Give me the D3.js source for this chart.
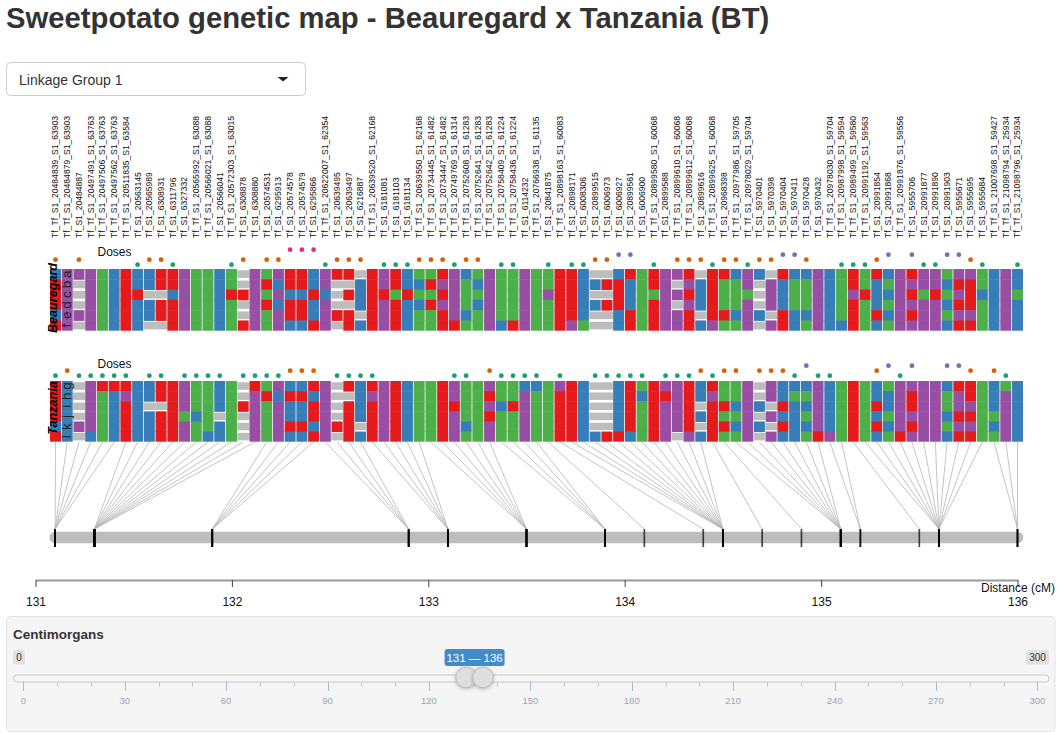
<!DOCTYPE html>
<html>
<head>
<meta charset="utf-8">
<script src="https://cdn.jsdelivr.net/npm/d3@7"></script>
<style>
html,body{margin:0;padding:0;background:#fff;overflow:hidden}
svg{display:block;font-family:"Liberation Sans",Arial,sans-serif}
</style>
</head>
<body>
<svg id="chart" width="1060" height="733"></svg>
<script>
const titleText = "Sweetpotato genetic map - Beauregard x Tanzania (BT)";
const selectText = "Linkage Group 1";
const parent1 = "Beauregard";
const parent2 = "Tanzania";
const rows1 = ["a","b","c","d","e","f"];
const rows2 = ["g","h","i","j","k","l"];
const axisTicks = [131,132,133,134,135,136];
const sliderRange = [131,136];
const sliderDomain = [0,300];

const markers = [
"Tf_Tf_S1_20484839_S1_63903","Tf_Tf_S1_20484879_S1_63903","Tf_S1_20484887","Tf_Tf_S1_20497491_S1_63763","Tf_Tf_S1_20497506_S1_63763","Tf_Tf_S1_20497562_S1_63763","Tf_Tf_S1_20511835_S1_63584","Tf_S1_20563145","Tf_S1_20565989","Tf_S1_6308931",
"Tf_S1_6311796","Tf_S1_6327332","Tf_Tf_S1_20565992_S1_63088","Tf_Tf_S1_20566021_S1_63088","Tf_S1_20566041","Tf_Tf_S1_20572303_S1_63015","Tf_S1_6308878","Tf_S1_6308880","Tf_S1_20574531","Tf_S1_6295913",
"Tf_S1_20574578","Tf_S1_20574579","Tf_S1_6295866","Tf_Tf_S1_20622007_S1_62354","Tf_S1_20639495","Tf_S1_20639497","Tf_S1_6216887","Tf_Tf_S1_20639520_S1_62168","Tf_S1_6181081","Tf_S1_6181103",
"Tf_S1_6181134","Tf_Tf_S1_20639550_S1_62168","Tf_Tf_S1_20734445_S1_61482","Tf_Tf_S1_20734447_S1_61482","Tf_Tf_S1_20749769_S1_61314","Tf_Tf_S1_20752608_S1_61283","Tf_Tf_S1_20752641_S1_61283","Tf_Tf_S1_20752642_S1_61283","Tf_Tf_S1_20758409_S1_61224","Tf_Tf_S1_20758436_S1_61224",
"Tf_S1_6114232","Tf_Tf_S1_20766938_S1_61135","Tf_S1_20841875","Tf_Tf_S1_20898163_S1_60083","Tf_S1_20898171","Tf_S1_6008306","Tf_S1_20899515","Tf_S1_6006973","Tf_S1_6006927","Tf_S1_20899561",
"Tf_S1_6006900","Tf_Tf_S1_20899580_S1_60068","Tf_S1_20899588","Tf_Tf_S1_20899610_S1_60068","Tf_Tf_S1_20899612_S1_60068","Tf_S1_20899616","Tf_Tf_S1_20899625_S1_60068","Tf_S1_20968398","Tf_Tf_S1_20977986_S1_59705","Tf_Tf_S1_20978029_S1_59704",
"Tf_S1_5970401","Tf_S1_5970398","Tf_S1_5970404","Tf_S1_5970411","Tf_S1_5970428","Tf_S1_5970432","Tf_Tf_S1_20978030_S1_59704","Tf_Tf_S1_20987998_S1_59594","Tf_Tf_S1_20989499_S1_59580","Tf_Tf_S1_20991192_S1_59563",
"Tf_S1_20991854","Tf_S1_20991868","Tf_Tf_S1_20991876_S1_59556","Tf_S1_5955706","Tf_S1_20991877","Tf_S1_20991890","Tf_S1_20991903","Tf_S1_5955671","Tf_S1_5955695","Tf_S1_5955684",
"Tf_Tf_S1_21007698_S1_59427","Tf_Tf_S1_21098794_S1_25934","Tf_Tf_S1_21098796_S1_25934"];

const centimorgans = [
131.1,131.1,131.1,131.1,131.1,131.1,
131.3,131.3,131.3,131.3,131.3,131.3,131.3,131.3,131.3,131.3,131.3,131.3,
131.9,131.9,131.9,131.9,131.9,
132.9,132.9,132.9,132.9,
133.1,133.1,133.1,133.1,133.1,
133.5,133.5,133.5,133.5,133.5,133.5,
133.9,133.9,133.9,133.9,
134.1,134.4,
134.5,134.5,134.5,134.5,134.5,134.5,134.5,134.5,134.5,134.5,134.5,134.5,
134.7,134.9,
135.1,135.1,135.1,135.1,135.1,135.1,135.1,135.1,
135.2,135.2,135.5,
135.6,135.6,135.6,135.6,135.6,135.6,135.6,135.6,135.6,135.6,135.6,
136,136,136];

// R red, B blue, G green, P purple, . gray (missing); six homologs per marker
const haplotypes1 = [
"BRRRBR","PPPPPP","P...P.","PPPPPP","GGGGGG","BBBBBB","RRRRRR","BBRBBB","BB.BB.","RR.RR.",
"RRBRRR","PPPPPP","GGGGGG","GGGGGG","BBBBBB","GGRGGG","..R..R","PPPPPP","GRGRGG","PBPBPP",
"RRBRRB","RRBRRB","BBRBBR","PPBPPP","R...R.","R.R.RR",".BBB.B","RRRRRR","PPRPPP","RRGRRR",
"BBRBBB","GBGBGG","GRGRGG","RPRPRR","PPPPPR","BGGGBG","GBGBGG","PPPPPP","GGGGGB","GGGGGR",
"PPPPPP","GGGGGG","GGPGGG","RRRRRR","RRRRRP","BBBBBG",".B.B..",".R.R..","BRRRBB","RBBBRR",
"GGGGGG","RRGRRR","PPPPPP","P.P.PP","RPRPRR",".BBB.B","RRRRRP","RGGGRG","BGGGBG","PPGPPP",
"B...B.",".PPP.P","RBBBRR","BGGGBB","BGGGBG","PPPPPP","BBBBBB","GGGGGB","RRPRRR","GGRGGG",
"RBBBRB","BGBGBG","PPPPPP","RPRPRP","PPGPPP","PPRPPP","GBGBGB","PRPRPR","PRRRPR","GGBGGG",
"BBBBBB","PPPPPP","BBGBBB"];

const haplotypes2 = [
"RRRRBR","BBBBBB","....P.","PPPPPB","RGGGGG","RBBBBB","RPRRRR","BBBBBB","BB.BBB","RR.RRR",
"RRRRRR","PPPGPP","GGGBGG","GGGGGB","BBB.BB","GGGGGG","..R...","RPPPPP","GRGGGG","PBPPPP",
"BRBBRB","BRBBRB","RBRRBR","PPPPPP","....R.","R.RRRR","BBBB.B","RPRRRR","PPPPPP","RRRRRR",
"BBBBBB","GGGGGG","GGGGGG","RRRRRR","PPRPPP","GGGGBG","GGGGGG","PRPRPP","GGBGGG","GGRGGG",
"BPPPPP","BGGGGG","GGGGGG","PRRRRR","RRRRRR","BBBBBB",".....B",".....R","BBBBBR","RRRRRB",
"GBGGGG","RRRRRR","PRPPPP","PPPPP.","RRRRRP","BB.B.B","RPRRRR","GGRGRG","GGBGBG","PPPPPP",
"..B.B.","PP.P.P","BBRBRB","BGBBBB","BGBGBG","PPPPPR","BBBBBP","GGGGGG","RRRRRR","GGGGGG",
"BBRBRB","GBBGBG","PPPPPR","PRRPRP","PPPPPP","PPPPPP","BGGBGB","RPPRPR","RRPRPR","GGGGGG",
"BBBGBG","GPPPPP","BBBBBB"];

const doses1 = [2,0,2,0,0,0,0,1,2,2,1,0,0,0,0,1,2,0,2,2,4,4,4,1,2,2,2,0,1,1,1,2,2,2,1,2,2,0,1,1,0,0,1,0,1,1,2,2,3,3,0,1,0,2,2,2,1,2,2,1,2,2,3,3,2,0,0,1,1,1,2,3,0,3,1,1,3,3,2,1,0,0,1];
const doses2 = [1,2,1,1,1,1,1,0,1,1,0,1,1,1,1,0,1,1,1,1,2,2,2,0,1,1,1,1,0,0,0,0,0,0,1,1,0,2,1,1,1,1,0,1,0,0,1,1,1,1,1,0,1,1,1,2,1,2,2,0,2,2,2,1,3,1,1,0,0,0,2,3,1,3,0,0,3,3,2,0,2,1,0];

const alleleColors = {R:"#e41a1c",B:"#377eb8",G:"#4daf4a",P:"#984ea3",".":"#bdbdbd"};
const doseColors = ["none","#1b9e77","#d95f02","#7570b3","#e7298a"];

const svg = d3.select("#chart");

// header
svg.append("text").attr("x",6).attr("y",28).attr("font-size",29.25).attr("font-weight",700)
  .attr("fill","#333").text(titleText);

svg.append("rect").attr("x",6.5).attr("y",62.5).attr("width",299).attr("height",33).attr("rx",4)
  .attr("fill","#fff").attr("stroke","#ccc");
svg.append("text").attr("x",19).attr("y",85).attr("font-size",14).attr("fill","#333").text(selectText);
svg.append("path").attr("d","M277.5 77L288.5 77L283 81.5Z").attr("fill","#222");

// scales
const xCol = d3.scalePoint().domain(d3.range(markers.length)).range([55.5,1017.5]);
const xCm = d3.scaleLinear().domain([131,136]).range([35.5,1017.5]);
const cellW = 10.95;

svg.append("clipPath").attr("id","labelClip").append("rect")
  .attr("x",0).attr("y",115).attr("width",1060).attr("height",130);

// marker names
svg.append("g").attr("clip-path","url(#labelClip)")
  .selectAll("text").data(markers).join("text")
  .attr("transform",(d,i)=>`translate(${xCol(i)+2.9},238) rotate(-90) scale(0.895,1)`)
  .attr("font-size",9.6).attr("fill","#111").text(d=>d);

function drawParent(name, rowNames, haps, doses, top, bottom, doseBase, doseLabelY, nameCenter){
  const g = svg.append("g");
  const y = d3.scaleBand().domain(rowNames).range([top,bottom]);
  const dose = d3.scaleLinear().domain([1,4]).range([doseBase,doseBase-15]);
  const cells = haps.flatMap((h,i)=>rowNames.map((r,k)=>({i,r,a:h[k]})));
  g.append("g").selectAll("rect").data(cells).join("rect")
    .attr("x",d=>xCol(d.i)-(d.a==="."?5.9:5.475))
    .attr("width",d=>d.a==="."?11.9:cellW)
    .attr("y",d=>d.a==="."?y(d.r)+1.3:y(d.r))
    .attr("height",d=>d.a==="."?y.bandwidth()-2.6:y.bandwidth()+(d.r===rowNames[5]?0:0.5))
    .attr("fill",d=>alleleColors[d.a]);
  g.append("g").selectAll("circle").data(doses.map((d,i)=>({d,i})).filter(e=>e.d>0)).join("circle")
    .attr("cx",d=>xCol(d.i)).attr("cy",d=>dose(d.d)).attr("r",2.4)
    .attr("fill",d=>doseColors[d.d]);
  g.append("text").attr("x",97.5).attr("y",doseLabelY).attr("font-size",12).attr("fill","#111").text("Doses");
  g.append("g").selectAll("text").data(rowNames).join("text")
    .attr("transform",r=>`translate(71.3,${y(r)+y.bandwidth()/2}) rotate(-90)`)
    .attr("text-anchor","middle").attr("font-size",13.5).attr("fill","#222").text(r=>r);
  g.append("text").attr("transform",`translate(56.5,${nameCenter}) rotate(-90)`)
    .attr("text-anchor","middle").attr("font-size",12.6).attr("font-weight",700)
    .attr("font-style","italic").attr("fill","#000").text(name);
}
drawParent(parent1,rows1,haplotypes1,doses1,269,330.7,264.7,256,298);
drawParent(parent2,rows2,haplotypes2,doses2,381,441.7,375.7,367.5,408);

// connector fan lines
const linkG = svg.append("g");
linkG.selectAll("line").data(centimorgans).join("line")
  .attr("x1",(d,i)=>xCol(i)).attr("y1",442).attr("x2",d=>xCm(d)).attr("y2",529)
  .attr("stroke","#b5b5b5").attr("stroke-width",0.8);

// chromosome
svg.append("line").attr("x1",xCm(131.1)).attr("x2",xCm(136)).attr("y1",537.5).attr("y2",537.5)
  .attr("stroke","#bdbdbd").attr("stroke-width",11.5).attr("stroke-linecap","round");
svg.append("g").selectAll("line").data(centimorgans).join("line")
  .attr("x1",d=>xCm(d)).attr("x2",d=>xCm(d)).attr("y1",529).attr("y2",547)
  .attr("stroke","#000").attr("stroke-width",1.7).attr("stroke-opacity",0.7);

// distance axis
const axisG = svg.append("g").attr("transform","translate(0,580)")
  .call(d3.axisBottom(xCm).tickValues(axisTicks).tickSize(7).tickSizeOuter(0).tickFormat(d3.format("d")));
axisG.select(".domain").attr("stroke","#999").attr("stroke-width",2);
axisG.selectAll(".tick line").attr("stroke","#444");
axisG.selectAll(".tick text").attr("y",17).attr("font-size",12).attr("fill","#111")
  .attr("font-family","'Liberation Sans',Arial,sans-serif");
svg.append("text").attr("x",981).attr("y",592).attr("font-size",12).attr("fill","#111").text("Distance (cM)");

// slider well
svg.append("rect").attr("x",6.5).attr("y",616.5).attr("width",1048.5).attr("height",115).attr("rx",4)
  .attr("fill","#f5f5f5").attr("stroke","#e3e3e3");
svg.append("text").attr("x",13).attr("y",638.5).attr("font-size",13.5).attr("font-weight",700)
  .attr("fill","#333").text("Centimorgans");

const xSlider = d3.scaleLinear().domain(sliderDomain).range([23.3,1037.4]);
// min/max badges
[[13,12,"0"],[1026,23,"300"]].forEach(([bx,bw,t])=>{
  svg.append("rect").attr("x",bx).attr("y",650).attr("width",bw).attr("height",14.5).attr("rx",3).attr("fill","#e1e1e1");
  svg.append("text").attr("x",bx+bw/2).attr("y",661).attr("text-anchor","middle").attr("font-size",10).attr("fill","#333").text(t);
});
// track
svg.append("rect").attr("x",13.5).attr("y",675).attr("width",1035.5).attr("height",7).attr("rx",3.5)
  .attr("fill","#f7f7f7").attr("stroke","#c8c8c8");
// grid ticks
const sliderMinor = d3.range(0,301,10);
svg.append("g").selectAll("line").data(sliderMinor).join("line")
  .attr("x1",d=>Math.round(xSlider(d))+.5).attr("x2",d=>Math.round(xSlider(d))+.5)
  .attr("y1",682).attr("y2",d=>d%30===0?691:686.5)
  .attr("stroke",d=>d%30===0?"#9dbcd8":"#c4c9ce");
svg.append("g").selectAll("text").data(sliderMinor.filter(d=>d%30===0)).join("text")
  .attr("x",d=>xSlider(d)).attr("y",704).attr("text-anchor","middle").attr("font-size",9.5)
  .attr("fill","#99a6b3").text(d=>d);
// handles
const handleG = svg.append("g");
handleG.selectAll("circle").data(sliderRange).join("circle")
  .attr("cx",d=>xSlider(d)).attr("cy",677.5).attr("r",10.3)
  .attr("fill","#dedede").attr("stroke","#bbb")
  .style("filter","drop-shadow(0 1px 2px rgba(0,0,0,.25))");
// value badge
const badgeMid = (xSlider(sliderRange[0])+xSlider(sliderRange[1]))/2;
svg.append("rect").attr("x",badgeMid-30).attr("y",649).attr("width",60).attr("height",17).attr("rx",3).attr("fill","#428bca");
svg.append("text").attr("x",badgeMid).attr("y",661.5).attr("text-anchor","middle").attr("font-size",11.5).attr("fill","#fff")
  .text(sliderRange[0]+" \u2014 "+sliderRange[1]);
</script>
</body>
</html>
